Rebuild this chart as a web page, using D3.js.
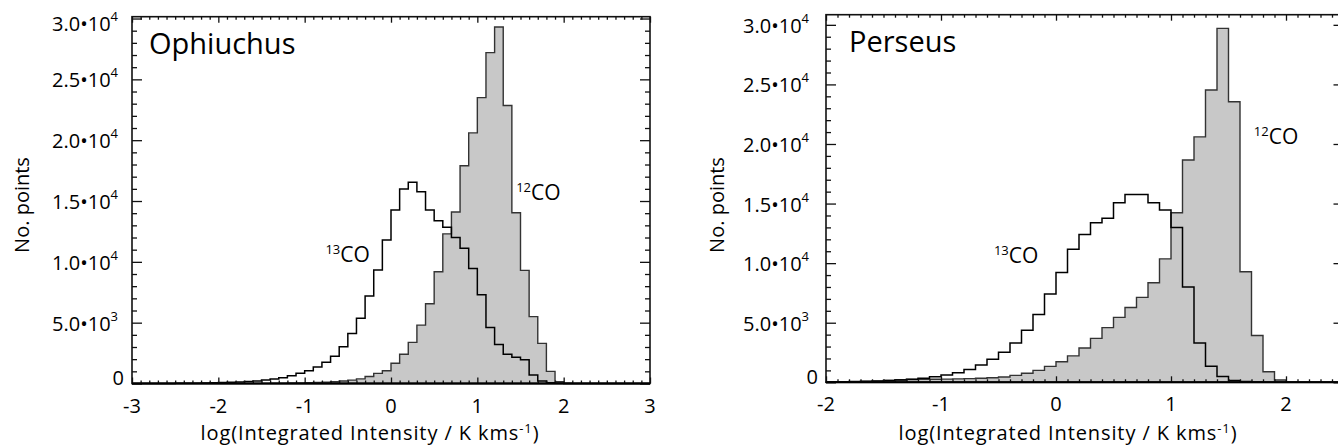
<!DOCTYPE html>
<html lang="en">
<head>
<meta charset="UTF-8">
<title>CO integrated intensity histograms</title>
<script src="https://cdn.jsdelivr.net/npm/d3@7"></script>
<style>
  body { margin: 0; background: #fff; }
  svg { display: block; font-family: "Open Sans", sans-serif; }
  .frame { fill: none; stroke: #111; stroke-width: 1.6; }
  .tick line { stroke: #111; stroke-width: 1.3; }
  .domain { display: none; }
  .h12 { fill: #c8c8c8; stroke: #333; stroke-width: 1.4; }
  .h13 { fill: none; stroke: #000; stroke-width: 1.5; }
  .lbl { font-size: 20px; fill: #000; }
</style>
</head>
<body>
<script>
  // histogram bin width in log(I)
  const binWidth = 0.1;

  // Ophiuchus: bins start at -3.0
  const ophStart = -3.0;
  const oph12 = [
    0, 0, 0, 0, 0, 0, 0, 0, 0, 0,
    0, 0, 0, 0, 0, 10, 20, 30, 40, 50,
    70, 90, 110, 140, 200, 280, 380, 570, 830, 1050,
    1660, 2400, 3380, 4800, 6560, 9190, 12300, 14100, 17900, 20600,
    23500, 27200, 29300, 22850, 14030, 9300, 5500, 3300, 1000, 150,
    20, 0, 0, 0, 0, 0, 0, 0, 0, 0
  ];
  const oph13 = [
    0, 0, 5, 8, 10, 15, 20, 30, 40, 55,
    80, 100, 130, 160, 210, 280, 370, 480, 640, 850,
    1050, 1350, 1750, 2250, 3030, 4120, 5360, 7190, 9330, 11800,
    14260, 15990, 16540, 15770, 14260, 13385, 12840, 12000, 11110, 9450,
    7300, 4600, 3200, 2400, 2150, 1950, 700, 200, 60, 20,
    0, 0, 0, 0, 0, 0, 0, 0, 0, 0
  ];

  // Perseus: bins start at -2.0
  const perStart = -2.0;
  const per12 = [
    20, 30, 50, 70, 100, 150, 220, 240, 250, 260,
    270, 290, 310, 340, 380, 440, 580, 755, 1000, 1340,
    1730, 2220, 2880, 3690, 4585, 5450, 6280, 7130, 8360, 10360,
    14230, 18650, 20600, 24530, 29700, 23550, 9280, 3930, 890, 196,
    20, 0, 0, 0, 0
  ];
  const per13 = [
    40, 50, 60, 80, 110, 150, 200, 260, 340, 470,
    620, 800, 1080, 1450, 1930, 2520, 3300, 4360, 5680, 7420,
    9210, 11170, 12400, 13400, 13760, 15070, 15770, 15770, 15070, 14460,
    13000, 8000, 3300, 1350, 480, 150, 60, 20, 0, 0,
    0, 0, 0, 0, 0
  ];

  const ophXTicks = [-3, -2, -1, 0, 1, 2, 3];
  const perXTicks = [-2, -1, 0, 1, 2];
  const yTicks = [0, 5000, 10000, 15000, 20000, 25000, 30000];
  const yTickMant = ["0", "5.0", "1.0", "1.5", "2.0", "2.5", "3.0"];
  const yTickExp = ["", "3", "4", "4", "4", "4", "4"];

  const W = 1338, H = 447;
  const svg = d3.select("body").append("svg")
    .attr("width", W).attr("height", H);

  const panels = [
    { name: "Ophiuchus", start: ophStart, c12: oph12, c13: oph13, xTicks: ophXTicks,
      xDom: [-3, 3], yMax: 30150, left: 132, right: 650, top: 16.7, bottom: 383.5,
      lab13: [-0.76, 10000], lab12: [1.45, 15100], titleX: 370, yTitleX: 29, labGap: 14, nameDx: 17 },
    { name: "Perseus", start: perStart, c12: per12, c13: per13, xTicks: perXTicks,
      xDom: [-2, 2.5], yMax: 30850, left: 826, right: 1343.5, top: 14.7, bottom: 382.3,
      lab13: [-0.54, 10000], lab12: [1.72, 20000], titleX: 1068, yTitleX: 724, labGap: 17, nameDx: 23 }
  ];

  function stepPoints(start, counts) {
    const pts = [];
    counts.forEach((c, i) => {
      const x0 = start + i * binWidth;
      pts.push([x0, c], [x0 + binWidth, c]);
    });
    return pts;
  }

  function coLabel(g, x, y, iso) {
    const t = g.append("text").attr("x", x).attr("y", y).attr("font-size", 21);
    t.append("tspan").attr("font-size", 13).attr("dy", -8).text(iso);
    t.append("tspan").attr("dy", 8).text("CO");
  }

  panels.forEach(p => {
    const x = d3.scaleLinear().domain(p.xDom).range([p.left, p.right]);
    const y = d3.scaleLinear().domain([0, p.yMax]).range([p.bottom, p.top]);
    const g = svg.append("g");

    // 12CO filled histogram
    const area = d3.area().x(d => x(d[0])).y0(y(0)).y1(d => y(d[1]));
    g.append("path").attr("class", "h12").attr("d", area(stepPoints(p.start, p.c12)));

    // 13CO outline
    const line = d3.line().x(d => x(d[0])).y(d => y(d[1]));
    g.append("path").attr("class", "h13").attr("d", line(stepPoints(p.start, p.c13)));

    // axes: major + minor ticks on all four sides, pointing inward
    const minorX = d3.range(Math.round(p.xDom[0] * 10), Math.round(p.xDom[1] * 10) + 1)
      .map(v => v / 10).filter(v => !p.xTicks.includes(v));
    const minorY = d3.range(0, p.yMax, 1000).filter(v => v % 5000 !== 0);

    const ax = [
      [d3.axisBottom(x).tickValues(p.xTicks).tickSize(-6), p.bottom, "h"],
      [d3.axisBottom(x).tickValues(minorX).tickSize(-3), p.bottom, "h"],
      [d3.axisTop(x).tickValues(p.xTicks).tickSize(-6), p.top, "h"],
      [d3.axisTop(x).tickValues(minorX).tickSize(-3), p.top, "h"],
      [d3.axisLeft(y).tickValues(yTicks).tickSize(-10), p.left, "v"],
      [d3.axisLeft(y).tickValues(minorY).tickSize(-5), p.left, "v"],
      [d3.axisRight(y).tickValues(yTicks).tickSize(-10), p.right, "v"],
      [d3.axisRight(y).tickValues(minorY).tickSize(-5), p.right, "v"]
    ];
    ax.forEach(([a, pos, dir]) => {
      g.append("g")
        .attr("transform", dir === "h" ? `translate(0,${pos})` : `translate(${pos},0)`)
        .call(a.tickSizeOuter(0).tickFormat(""));
    });

    g.append("rect").attr("class", "frame")
      .attr("x", p.left).attr("y", p.top)
      .attr("width", p.right - p.left).attr("height", p.bottom - p.top);
    g.append("line").attr("x1", p.left).attr("x2", p.right)
      .attr("y1", p.bottom).attr("y2", p.bottom)
      .attr("stroke", "#000").attr("stroke-width", 2);

    // x tick labels
    g.selectAll(".xl").data(p.xTicks).enter().append("text")
      .attr("class", "lbl").attr("text-anchor", "middle")
      .attr("x", d => x(d)).attr("y", p.bottom + 29)
      .text(d => d < 0 ? "-" + Math.abs(d) : d);

    // y tick labels
    yTicks.forEach((v, i) => {
      let yy = Math.max(y(v), p.top + 6);
      if (v === 0) yy -= 6;
      const t = g.append("text").attr("class", "lbl")
        .attr("text-anchor", "end")
        .attr("dominant-baseline", "central")
        .attr("x", v === 0 ? p.left - 8 : p.left - p.labGap)
        .attr("y", yy);
      if (yTickExp[i] === "") {
        t.text(yTickMant[i]);
      } else {
        t.append("tspan").text(yTickMant[i] + "\u202210");
        t.append("tspan").attr("font-size", 13).attr("dy", -7).text(yTickExp[i]);
      }
    });

    // axis titles
    const xt = g.append("text").attr("class", "lbl").attr("text-anchor", "middle")
      .attr("letter-spacing", 0.9)
      .attr("x", p.titleX).attr("y", 440);
    xt.append("tspan").text("log(Integrated Intensity / K kms");
    xt.append("tspan").attr("font-size", 13).attr("dy", -7).text("-1");
    xt.append("tspan").attr("dy", 7).text(")");

    g.append("text").attr("class", "lbl").attr("text-anchor", "middle")
      .attr("transform", `translate(${p.yTitleX},205) rotate(-90)`)
      .text("No. points");

    // panel name and line labels
    g.append("text").attr("font-size", 29)
      .attr("x", p.left + p.nameDx).attr("y", p.top + 37)
      .text(p.name);
    coLabel(g, x(p.lab13[0]), y(p.lab13[1]), "13");
    coLabel(g, x(p.lab12[0]), y(p.lab12[1]), "12");
  });
</script>
</body>
</html>
